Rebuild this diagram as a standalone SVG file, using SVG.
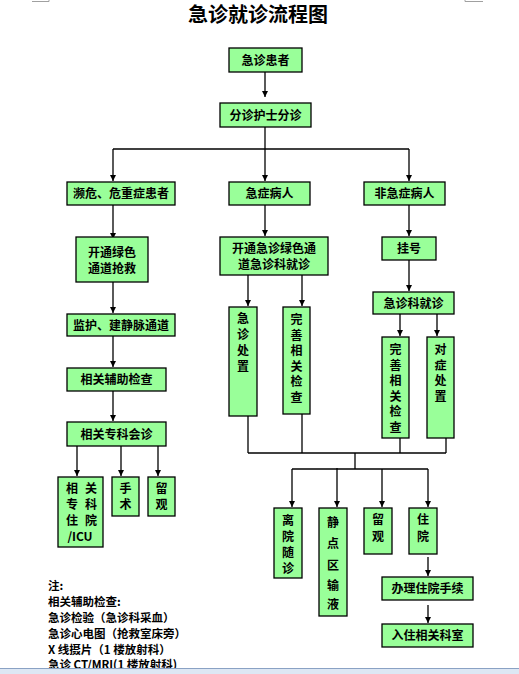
<svg xmlns="http://www.w3.org/2000/svg" width="519" height="674" viewBox="0 0 519 674">
<style>
.box{fill:#99ff99;stroke:#000;stroke-width:1.3}
.t{font-family:"Noto Sans CJK SC","Liberation Sans",sans-serif;font-weight:bold;font-size:12px;fill:#000;text-anchor:middle}
.n{font-family:"Noto Sans CJK SC","Liberation Sans",sans-serif;font-weight:bold;font-size:11.5px;fill:#000}
.c line,.c polyline{stroke:#000;stroke-width:1.3;fill:none}
</style>
<defs>
<marker id="a" markerUnits="userSpaceOnUse" markerWidth="7" markerHeight="7" refX="6" refY="3.5" orient="auto">
<path d="M0,0.5 L6,3.5 L0,6.5 z" fill="#000"/>
</marker>
</defs>
<rect x="0" y="0" width="519" height="674" fill="#fff"/>
<polyline points="32,1.5 49,1.5 49,0" fill="none" stroke="#a0a0a0" stroke-width="1"/>
<polyline points="483,1.5 465,1.5 465,0" fill="none" stroke="#a0a0a0" stroke-width="1"/>
<text x="258" y="22" style="font-family:'Noto Sans CJK SC',sans-serif;font-weight:bold;font-size:20px;text-anchor:middle">急诊就诊流程图</text>

<g class="c" id="connectors">
<line x1="265" y1="72" x2="265" y2="97" marker-end="url(#a)"/>
<polyline points="265,127 265,149"/>
<line x1="113" y1="149" x2="409" y2="149"/>
<line x1="113" y1="149" x2="113" y2="181" marker-end="url(#a)"/>
<line x1="265" y1="149" x2="265" y2="181" marker-end="url(#a)"/>
<line x1="409" y1="149" x2="409" y2="181" marker-end="url(#a)"/>
<line x1="113" y1="205" x2="113" y2="239" marker-end="url(#a)"/>
<line x1="113" y1="282" x2="113" y2="313" marker-end="url(#a)"/>
<line x1="113" y1="336" x2="113" y2="367" marker-end="url(#a)"/>
<line x1="113" y1="391" x2="113" y2="421" marker-end="url(#a)"/>
<line x1="77" y1="446" x2="77" y2="476" marker-end="url(#a)"/>
<line x1="121" y1="446" x2="121" y2="476" marker-end="url(#a)"/>
<line x1="158" y1="446" x2="158" y2="476" marker-end="url(#a)"/>
<line x1="265" y1="205" x2="265" y2="236" marker-end="url(#a)"/>
<line x1="248" y1="275" x2="248" y2="306" marker-end="url(#a)"/>
<line x1="302" y1="275" x2="302" y2="306" marker-end="url(#a)"/>
<line x1="409" y1="205" x2="409" y2="236" marker-end="url(#a)"/>
<line x1="409" y1="260" x2="409" y2="291" marker-end="url(#a)"/>
<line x1="400" y1="314" x2="400" y2="336" marker-end="url(#a)"/>
<line x1="437" y1="314" x2="437" y2="336" marker-end="url(#a)"/>
<line x1="248" y1="416" x2="248" y2="453"/>
<line x1="302" y1="414" x2="302" y2="453"/>
<line x1="400" y1="438" x2="400" y2="453"/>
<line x1="446" y1="438" x2="446" y2="453"/>
<line x1="248" y1="453" x2="446" y2="453"/>
<line x1="355" y1="453" x2="355" y2="469"/>
<line x1="292" y1="469" x2="428" y2="469"/>
<line x1="292" y1="469" x2="292" y2="507" marker-end="url(#a)"/>
<line x1="337" y1="468" x2="337" y2="507" marker-end="url(#a)"/>
<line x1="382" y1="469" x2="382" y2="507" marker-end="url(#a)"/>
<line x1="428" y1="469" x2="428" y2="507" marker-end="url(#a)"/>
<line x1="428" y1="557" x2="428" y2="576" marker-end="url(#a)"/>
<line x1="428" y1="605" x2="428" y2="623" marker-end="url(#a)"/>
</g>

<g id="n1"><rect class="box" x="229" y="48" width="73" height="24"/><text class="t" x="265.5" y="64.5">急诊患者</text></g>
<g id="n2"><rect class="box" x="220" y="103" width="91" height="24"/><text class="t" x="265.5" y="119.5">分诊护士分诊</text></g>
<g id="n3"><rect class="box" x="67" y="182" width="108" height="23"/><text class="t" x="121" y="198">濒危、危重症患者</text></g>
<g id="n4"><rect class="box" x="229" y="182" width="81" height="23"/><text class="t" x="269.5" y="198">急症病人</text></g>
<g id="n5"><rect class="box" x="364" y="182" width="81" height="23"/><text class="t" x="404.5" y="198">非急症病人</text></g>
<g id="n6"><rect class="box" x="76" y="237" width="72" height="45"/><text class="t" x="112" y="257">开通绿色<tspan x="112" y="273">通道抢救</tspan></text></g>
<g id="n7"><rect class="box" x="67" y="314" width="108" height="22"/><text class="t" x="121" y="329.5">监护、建静脉通道</text></g>
<g id="n8"><rect class="box" x="67" y="368" width="99" height="23"/><text class="t" x="116.5" y="384">相关辅助检查</text></g>
<g id="n9"><rect class="box" x="67" y="422" width="99" height="24"/><text class="t" x="116.5" y="438.5">相关专科会诊</text></g>
<g id="n10"><rect class="box" x="58" y="477" width="45" height="70"/>
<text class="t" x="72" y="493">相<tspan x="91" y="493">关</tspan><tspan x="72" y="509">专</tspan><tspan x="91" y="509">科</tspan><tspan x="72" y="525">住</tspan><tspan x="91" y="525">院</tspan><tspan x="80" y="541">/ICU</tspan></text></g>
<g id="n11"><rect class="box" x="112" y="477" width="27" height="39"/><text class="t" x="125.5" y="493">手<tspan x="125.5" y="509">术</tspan></text></g>
<g id="n12"><rect class="box" x="148" y="477" width="27" height="39"/><text class="t" x="161.5" y="493">留<tspan x="161.5" y="509">观</tspan></text></g>
<g id="n13"><rect class="box" x="220" y="237" width="108" height="38"/><text class="t" x="274" y="253">开通急诊绿色通<tspan x="274" y="269">道急诊科就诊</tspan></text></g>
<g id="n14"><rect class="box" x="229" y="307" width="28" height="109"/><text class="t" x="243" y="323">急<tspan x="243" y="339">诊</tspan><tspan x="243" y="355">处</tspan><tspan x="243" y="371">置</tspan></text></g>
<g id="n15"><rect class="box" x="283" y="307" width="27" height="107"/><text class="t" x="296.5" y="324">完<tspan x="296.5" y="339.5">善</tspan><tspan x="296.5" y="355">相</tspan><tspan x="296.5" y="370.5">关</tspan><tspan x="296.5" y="386">检</tspan><tspan x="296.5" y="401.5">查</tspan></text></g>
<g id="n16"><rect class="box" x="382" y="237" width="54" height="23"/><text class="t" x="409" y="253">挂号</text></g>
<g id="n17"><rect class="box" x="373" y="292" width="81" height="22"/><text class="t" x="413.5" y="307.5">急诊科就诊</text></g>
<g id="n18"><rect class="box" x="382" y="337" width="27" height="101"/><text class="t" x="395.5" y="354">完<tspan x="395.5" y="369.5">善</tspan><tspan x="395.5" y="385">相</tspan><tspan x="395.5" y="400.5">关</tspan><tspan x="395.5" y="416">检</tspan><tspan x="395.5" y="431.5">查</tspan></text></g>
<g id="n19"><rect class="box" x="427" y="337" width="27" height="101"/><text class="t" x="440.5" y="354">对<tspan x="440.5" y="369.5">症</tspan><tspan x="440.5" y="385">处</tspan><tspan x="440.5" y="400.5">置</tspan></text></g>
<g id="n20"><rect class="box" x="274" y="508" width="28" height="70"/><text class="t" x="288" y="525">离<tspan x="288" y="541">院</tspan><tspan x="288" y="557">随</tspan><tspan x="288" y="573">诊</tspan></text></g>
<g id="n21"><rect class="box" x="319" y="508" width="28" height="108"/><text class="t" x="333" y="527">静<tspan x="333" y="548">点</tspan><tspan x="333" y="570">区</tspan><tspan x="333" y="590">输</tspan><tspan x="333" y="609">液</tspan></text></g>
<g id="n22"><rect class="box" x="364" y="508" width="28" height="46"/><text class="t" x="378" y="524">留<tspan x="378" y="541">观</tspan></text></g>
<g id="n23"><rect class="box" x="409" y="508" width="28" height="46"/><text class="t" x="423" y="524">住<tspan x="423" y="541">院</tspan></text></g>
<g id="n24"><rect class="box" x="382" y="577" width="91" height="23"/><text class="t" x="427.5" y="593">办理住院手续</text></g>
<g id="n25"><rect class="box" x="382" y="624" width="91" height="23"/><text class="t" x="427.5" y="640">入住相关科室</text></g>

<g id="note">
<text class="n" x="48" y="590">注:</text>
<text class="n" x="48" y="606">相关辅助检查:</text>
<text class="n" x="48" y="622">急诊检验（急诊科采血）</text>
<text class="n" x="48" y="638">急诊心电图（抢救室床旁）</text>
<text class="n" x="48" y="654">X 线摄片（1 楼放射科）</text>
<text class="n" x="48" y="669">急诊 CT/MRI(1 楼放射科)</text>
</g>
<rect x="0" y="669" width="519" height="5" fill="#dde7f4"/>
<line x1="0" y1="668.5" x2="519" y2="668.5" stroke="#8aa2c4" stroke-width="1"/>
</svg>
